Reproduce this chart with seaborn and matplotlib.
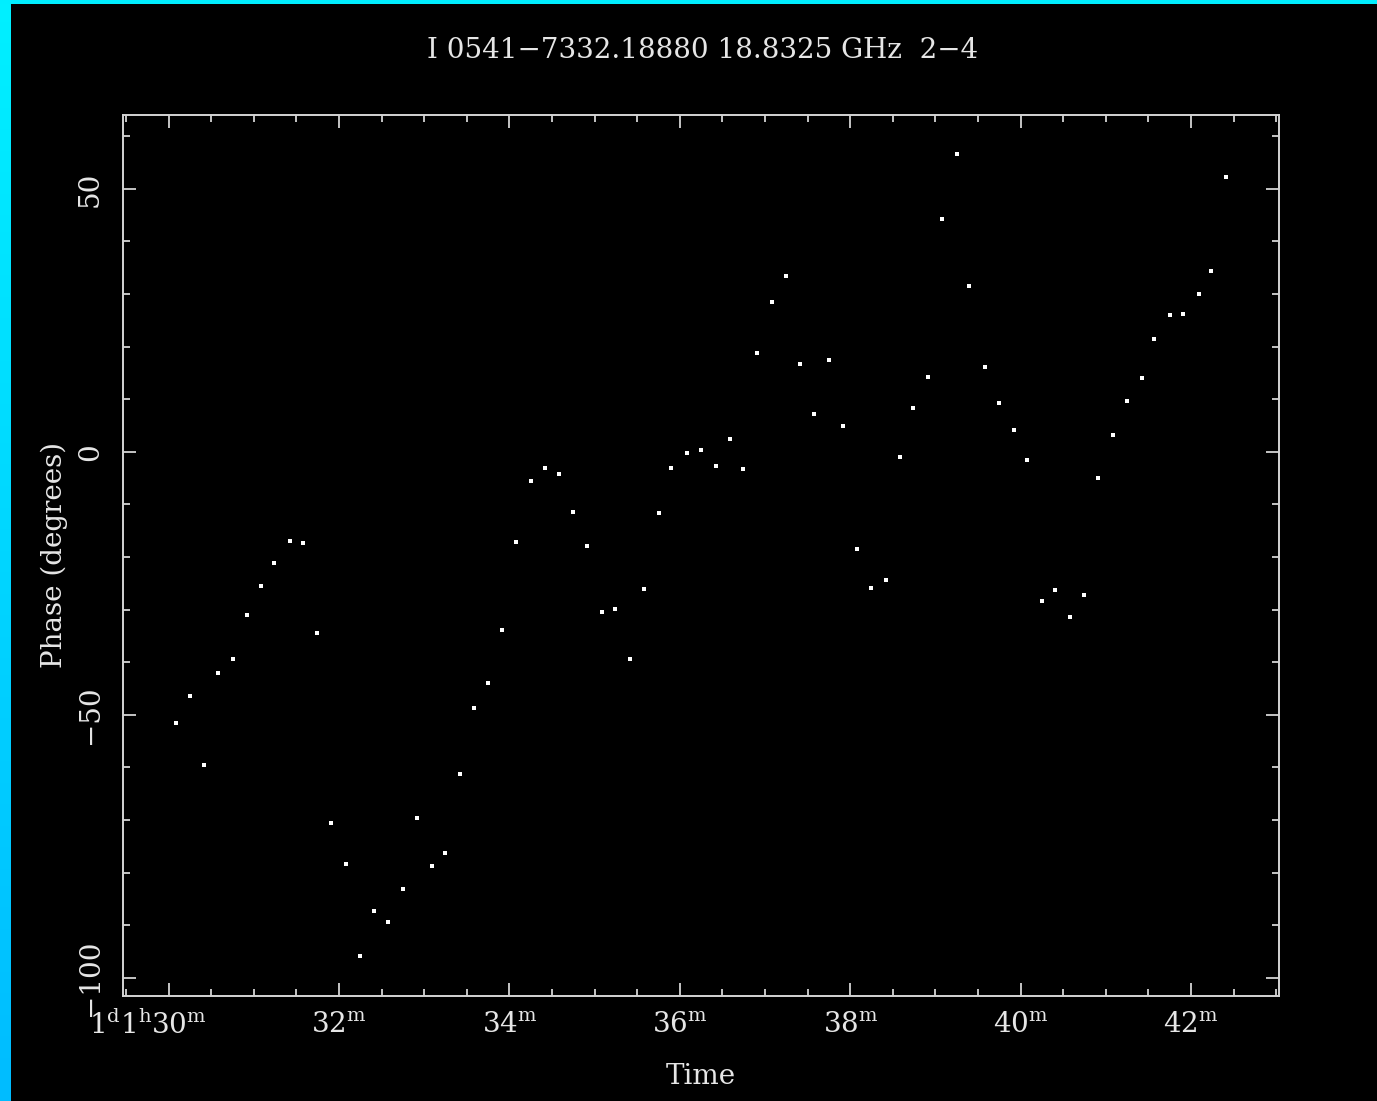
import numpy as np
import pandas as pd
import matplotlib
matplotlib.use("Agg")
import matplotlib.pyplot as plt
import matplotlib.transforms as mtransforms
from matplotlib.ticker import MultipleLocator, FixedLocator
import seaborn as sns

# Observation times (minutes after 1d 1h) and baseline 2-4 phases (degrees)
time_min = [
    30.08, 30.25, 30.41, 30.58, 30.75, 30.92, 31.08, 31.24, 31.42, 31.58,
    31.74, 31.91, 32.08, 32.25, 32.41, 32.58, 32.75, 32.92, 33.09, 33.24,
    33.42, 33.58, 33.75, 33.91, 34.08, 34.25, 34.42, 34.58, 34.75, 34.91,
    35.09, 35.24, 35.41, 35.58, 35.75, 35.90, 36.08, 36.25, 36.42, 36.59,
    36.74, 36.91, 37.08, 37.25, 37.41, 37.58, 37.75, 37.92, 38.08, 38.25,
    38.42, 38.58, 38.74, 38.91, 39.08, 39.25, 39.40, 39.58, 39.75, 39.92,
    40.08, 40.25, 40.41, 40.58, 40.75, 40.91, 41.08, 41.25, 41.42, 41.57,
    41.75, 41.91, 42.09, 42.24, 42.41,
]
phase_deg = [
    -51.5, -46.5, -59.5, -42.0, -39.4, -31.1, -25.5, -21.2, -16.9, -17.4,
    -34.4, -70.5, -78.3, -95.8, -87.3, -89.4, -83.2, -69.6, -78.7, -76.2,
    -61.3, -48.7, -44.0, -33.9, -17.2, -5.5, -3.0, -4.2, -11.4, -17.8,
    -30.5, -29.9, -39.4, -26.1, -11.6, -3.0, -0.2, 0.4, -2.7, 2.5,
    -3.3, 18.8, 28.5, 33.4, 16.7, 7.2, 17.4, 5.0, -18.4, -25.9,
    -24.4, -0.9, 8.4, 14.3, 44.3, 56.6, 31.6, 16.1, 9.3, 4.1,
    -1.5, -28.3, -26.3, -31.3, -27.3, -4.9, 3.2, 9.7, 14.0, 21.4,
    26.0, 26.3, 30.1, 34.4, 52.2,
]

x_major = [30, 32, 34, 36, 38, 40, 42]
x_labels = [r"1$^{\mathrm{d}}$1$^{\mathrm{h}}$30$^{\mathrm{m}}$",
            r"32$^{\mathrm{m}}$", r"34$^{\mathrm{m}}$", r"36$^{\mathrm{m}}$",
            r"38$^{\mathrm{m}}$", r"40$^{\mathrm{m}}$", r"42$^{\mathrm{m}}$"]
y_major = [-100, -50, 0, 50]
y_labels = ["\u2212100", "\u221250", "0", "50"]

title_text = "I 0541\u22127332.18880 18.8325 GHz  2\u22124"

df = pd.DataFrame({"time": time_min, "phase": phase_deg})

sns.set_theme(style="dark")
fg = "#e6e6e6"
plt.rcParams.update({
    "figure.facecolor": "black",
    "axes.facecolor": "black",
    "axes.edgecolor": "#d4d4d4",
    "axes.labelcolor": fg,
    "text.color": fg,
    "xtick.color": "#d4d4d4",
    "ytick.color": "#d4d4d4",
    "xtick.labelcolor": fg,
    "ytick.labelcolor": fg,
    "mathtext.fontset": "dejavuserif",
})
plt.rcParams["font.family"] = ["DejaVu Serif", "DejaVu Sans"]

FS = 20

fig = plt.figure(figsize=(13.77, 11.01), dpi=100)

# cyan frame strips along the left and top edges
strip = fig.add_axes([0, 0, 11 / 1377, 1])
grad = np.linspace(0, 1, 256).reshape(-1, 1)
cmap = matplotlib.colors.LinearSegmentedColormap.from_list(
    "frame", ["#00bcff", "#00f0ff"])
strip.imshow(grad, aspect="auto", cmap=cmap, origin="lower")
strip.set_axis_off()
top = fig.add_axes([0, 1 - 4 / 1101, 1, 4 / 1101])
top.set_facecolor("#00eeff")
top.set_xticks([]); top.set_yticks([])
for s in top.spines.values():
    s.set_visible(False)

ax = fig.add_axes([0.0891, 0.0956, 0.8395, 0.8002])
sns.scatterplot(data=df, x="time", y="phase", ax=ax, marker="s", s=5,
                color="white", linewidth=0, legend=False)

ax.set_xlim(29.46, 43.03)
ax.set_ylim(-103.4, 64.1)
ax.grid(False)
for s in ax.spines.values():
    s.set_visible(True)
    s.set_linewidth(1.4)
    s.set_color("#d4d4d4")

ax.xaxis.set_major_locator(FixedLocator(x_major))
ax.xaxis.set_minor_locator(MultipleLocator(0.5))
ax.yaxis.set_major_locator(FixedLocator(y_major))
ax.yaxis.set_minor_locator(MultipleLocator(10))
ax.set_xticklabels(x_labels)
ax.set_yticklabels(y_labels)

ax.tick_params(which="both", direction="in", top=True, right=True,
               bottom=True, left=True, width=1.3)
ax.tick_params(which="major", length=9.5)
ax.tick_params(which="minor", length=4.8)
ax.tick_params(axis="x", which="major", labelsize=FS, pad=11)
ax.tick_params(axis="y", which="major", labelsize=FS, pad=13.5)
for lab in ax.get_yticklabels():
    lab.set_rotation(90)
    lab.set_va("center")

# the day/hour prefix sits to the left of the first minute label
first = ax.get_xticklabels()[0]
first.set_ha("right")
first.set_transform(first.get_transform() +
                    mtransforms.ScaledTranslation(38 / 100, 0, fig.dpi_scale_trans))

ax.set_xlabel("Time", fontsize=FS)
ax.set_ylabel("Phase (degrees)", fontsize=FS)
ax.xaxis.set_label_coords(0.5, -0.076)
ax.yaxis.set_label_coords(-0.047, 0.5)

fig.text(703 / 1377, 1 - 50 / 1101, title_text, ha="center", va="center",
         fontsize=FS, color=fg)

fig.savefig("out.png", dpi=100, facecolor="black")
